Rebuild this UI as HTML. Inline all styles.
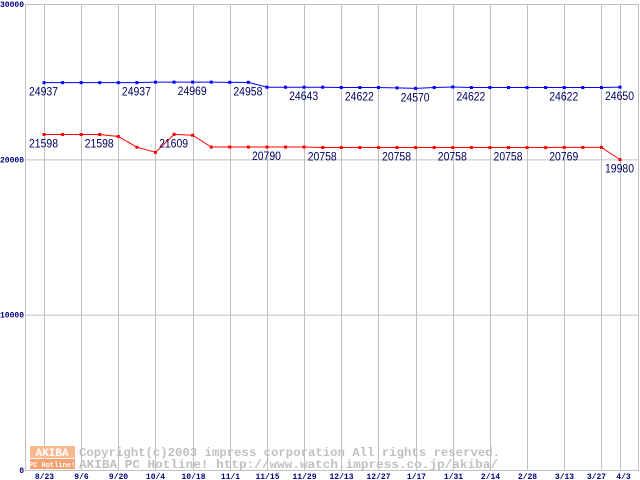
<!DOCTYPE html>
<html><head><meta charset="utf-8"><style>
body{margin:0;background:#fff}
svg{display:block}
text{font-family:"Liberation Mono","DejaVu Sans Mono",monospace}
</style></head><body>
<svg id="chart" width="640" height="480">
<g id="grid"></g>
<g id="wm">
<rect x="30" y="446" width="45" height="12" fill="#f8b890"/>
<rect x="30" y="459" width="45" height="10" fill="#f8a070"/>
<text x="52" y="456" font-size="11" fill="#fff" text-anchor="middle" font-weight="bold">AKIBA</text>
<text x="52" y="467" font-size="7" fill="#fff" text-anchor="middle" font-weight="bold">PC Hotline!</text>
<text x="79" y="456" font-size="12" fill="#c0c0c0" font-weight="bold" textLength="421" lengthAdjust="spacingAndGlyphs">Copyright(c)2003 impress corporation All rights reserved.</text>
<text x="79" y="468" font-size="12" fill="#c0c0c0" font-weight="bold" textLength="419" lengthAdjust="spacingAndGlyphs">AKIBA PC Hotline!  http://www.watch.impress.co.jp/akiba/</text>
</g>
<g id="series"></g>
</svg>
<script>
const xLabels=["8/23","9/6","9/20","10/4","10/18","11/1","11/15","11/29","12/13","12/27","1/17","1/31","2/14","2/28","3/13","3/27","4/3"];
const xLabelIdx=[0,2,4,6,8,10,12,14,16,18,20,22,24,26,28,30,31];
const yTicks=[0,10000,20000,30000];
const blueValues=[24937,24937,24937,24937,24937,24937,24969,24969,24969,24969,24958,24958,24643,24643,24643,24643,24622,24622,24622,24600,24570,24622,24660,24622,24622,24622,24622,24622,24622,24622,24622,24650];
const redValues=[21598,21598,21598,21598,21470,20780,20450,21609,21550,20790,20790,20790,20790,20790,20790,20758,20758,20758,20758,20758,20758,20758,20758,20758,20758,20758,20758,20758,20769,20769,20769,19980];
const blueLabelIdx=[0,5,8,11,14,17,20,23,28,31];
const redLabelIdx=[0,3,7,12,15,19,22,25,28,31];
const NS="http://www.w3.org/2000/svg";
const X0=44,DX=576/31,Y0=470,YT=4;
const xs=i=>X0+i*DX;
const ys=v=>Y0-(v/30000)*(Y0-YT);
const grid=document.getElementById('grid'),ser=document.getElementById('series');
function mk(tag,parent,attrs){const e=document.createElementNS(NS,tag);for(const k in attrs)e.setAttribute(k,attrs[k]);parent.appendChild(e);return e;}
mk('rect',grid,{x:25.5,y:4.5,width:613,height:466,fill:'none',stroke:'#c0c0c0'});
yTicks.forEach(v=>{
  const l=mk('line',grid,{x1:25,x2:639,y1:ys(v)+0.5,y2:ys(v)+0.5,stroke:'#c0c0c0'});
  
  
  const t=mk('text',grid,{x:24,y:ys(v)+3,'font-size':8,fill:'#000080','text-anchor':'end','font-weight':'bold'});
  t.textContent=String(v);
  
  
});
xLabels.forEach((s,k)=>{
  const x=Math.round(xs(xLabelIdx[k]))+0.5;
  const l=mk('line',grid,{x1:x,x2:x,y1:4,y2:470,stroke:'#c0c0c0'});
  
  
  const t=mk('text',grid,{x:x+(k==15?-5:k==16?3:0),y:479,'font-size':8,fill:'#000080','text-anchor':'middle','font-weight':'bold'});
  t.textContent=s;
  
  
});
function draw(vals,labs,color,name){
  const p=mk('polyline',ser,{points:vals.map((v,i)=>xs(i)+','+ys(v)).join(' '),fill:'none',stroke:color,'stroke-width':1});
  
  
  vals.forEach((v,i)=>{
    const r=mk('rect',ser,{x:xs(i)-1.5,y:ys(v)-1.5,width:3,height:3,fill:color});
    
    
  });
  labs.forEach(i=>{
    const t=mk('text',ser,{x:xs(i)-15,y:ys(vals[i])+13,'font-size':11.5,fill:'#000060',textLength:29,lengthAdjust:'spacingAndGlyphs',style:'font-family:"Liberation Sans",sans-serif'});
    t.textContent=String(vals[i]);
    
    
  });
}
draw(blueValues,blueLabelIdx,'#0000ff','blue-series');
draw(redValues,redLabelIdx,'#ff0000','red-series');
</script>
</body></html>
